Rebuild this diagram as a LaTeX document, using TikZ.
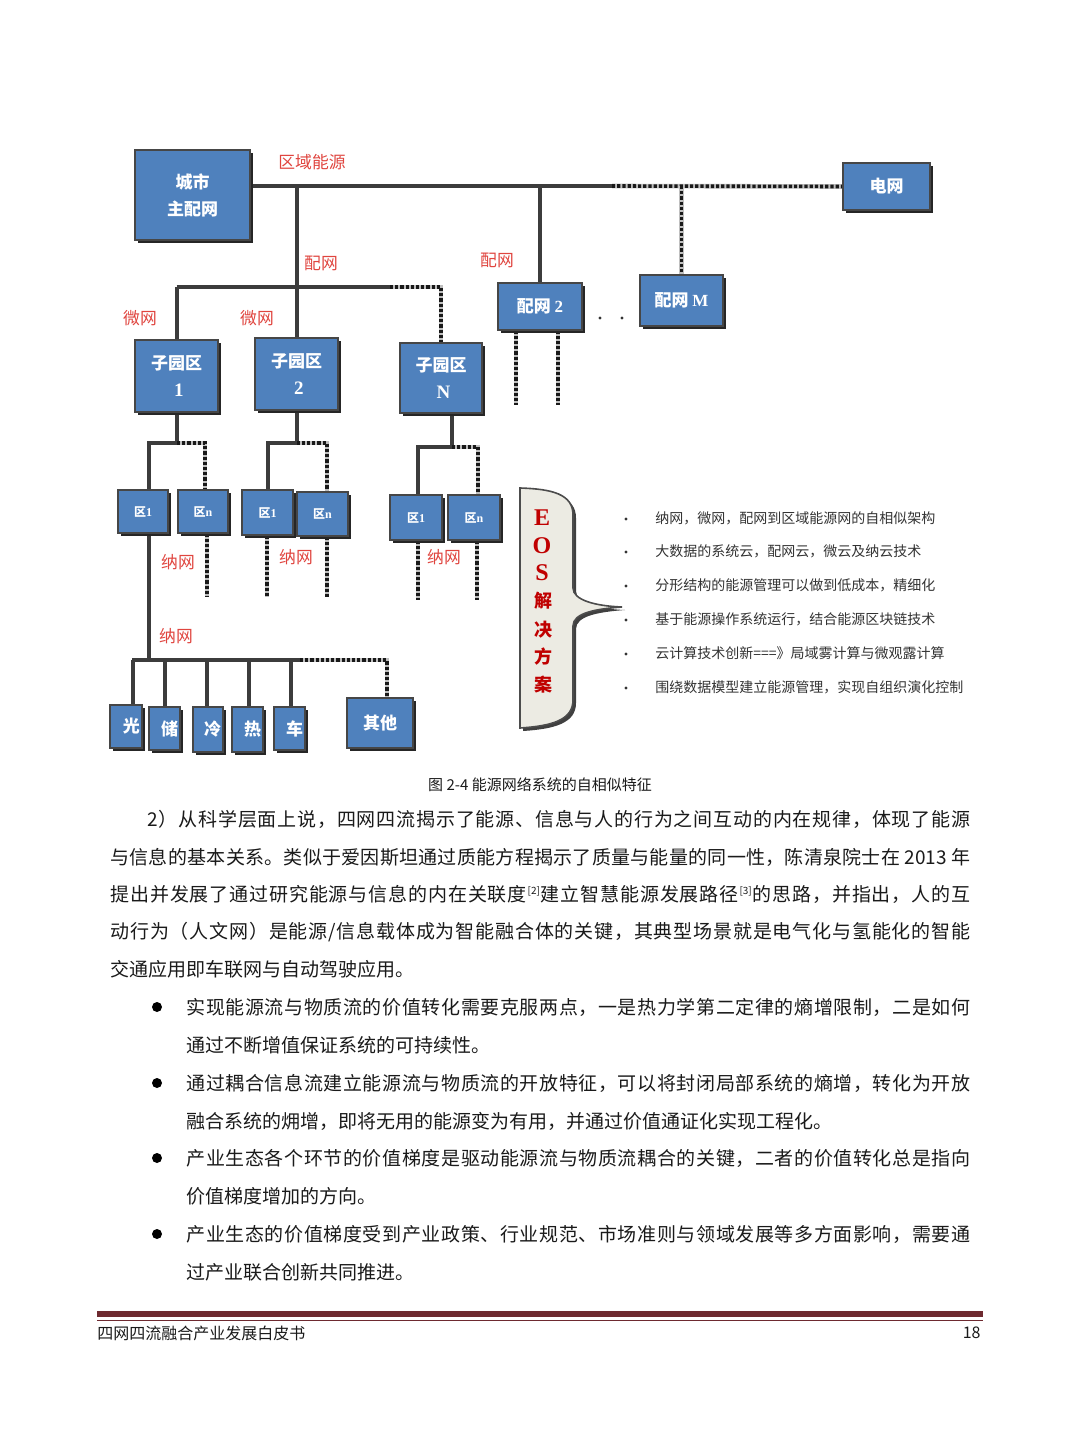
\documentclass[tikz,border=0pt]{standalone}
\usepackage{fontspec}
\setmainfont{Noto Sans CJK SC}
\newfontfamily\ser{Liberation Serif}
\usetikzlibrary{shadows,backgrounds}
\pgfdeclarelayer{bg}
\pgfsetlayers{bg,background,main}
\definecolor{boxblue}{HTML}{4F81BD}
\definecolor{labred}{HTML}{E0453F}
\definecolor{eosred}{HTML}{C00000}
\definecolor{linegray}{HTML}{3C3C3C}
\definecolor{maroonline}{HTML}{6E2A30}
\definecolor{listtext}{HTML}{333333}
\definecolor{bodytext}{HTML}{1A1A1A}
\definecolor{eosfill}{HTML}{ECEBE3}
\newcommand\fs[2]{\fontsize{#1}{#2}\selectfont}
\newcommand\bx[7][]{\node[box,minimum width={(#5-#3)*0.5pt},minimum height={(#6-#4)*0.5pt},#1] (#2) at ({(#3+#5)/2},{(#4+#6)/2}) {#7};}
\def\spr#1{\ifx\relax#1\else#1\hskip0pt plus 1fil\relax\expandafter\spr\fi}
\newcommand\J[2]{\hbox to #1{\spr #2\relax\unskip}}
\newcommand\sref[1]{{\fs{5}{5}\raisebox{3.5pt}{[#1]}}}
\def\srA{\sref{2}}
\def\srB{\sref{3}}
\begin{document}
\begin{tikzpicture}[x=0.5pt,y=-0.5pt,
  box/.style={draw=gray!55!black,line width=0.6pt,fill=boxblue,text=white,
    font=\bfseries\fs{8.5}{13.5},align=center,inner sep=0pt,
    drop shadow={shadow xshift=1.5pt,shadow yshift=-1.5pt,fill=black!85,opacity=1}},
  smallbox/.style={font=\bfseries\fs{6}{6}},
  leaf/.style={align=right,inner xsep=1pt,font=\bfseries\fs{8.5}{10}},
  slink/.style={draw=linegray,line width=2pt,line join=miter},
  dlink/.style={draw=black!90,line width=1.8pt,dash pattern=on 1.6pt off 1pt,line join=miter,
    preaction={draw=gray!50,line width=2.3pt,solid}},
  lab/.style={text=labred,font=\fs{8.4}{10},inner sep=0pt},
  eos/.style={text=eosred,inner sep=0pt},
  item/.style={anchor=west,text=listtext,font=\fs{7}{8},inner sep=0pt},
  tl/.style={anchor=west,inner sep=0pt,text=bodytext,font=\fs{9.5}{12}}
]
\useasboundingbox (0,0) rectangle (1080,1455);
\begin{pgfonlayer}{bg}
\fill[white] (0,0) rectangle (1080,1455);
\end{pgfonlayer}

% ---------- boxes ----------
\bx{city}{135}{150}{250}{240}{城市\\主配网}
\bx{grid}{843}{163}{930}{210}{电网}
\bx{pw2}{498}{283}{582}{330}{配网 {\ser 2}}
\bx{pwM}{640}{275}{723}{326}{配网 {\ser M}}
\bx{z1}{135}{340}{218}{412}{子园区\\{\ser\fs{9.5}{13.5} 1}}
\bx{z2}{255}{338}{338}{410}{子园区\\{\ser\fs{9.5}{13.5} 2}}
\bx{zN}{400}{343}{482}{413}{子园区\\{\ser\fs{9.5}{13.5} N}}
\bx[smallbox]{a1}{118}{490}{168}{533}{区{\ser 1}}
\bx[smallbox]{b1}{178}{490}{228}{533}{区{\ser n}}
\bx[smallbox]{a2}{242}{490}{293}{535}{区{\ser 1}}
\bx[smallbox]{b2}{297}{492}{348}{536}{区{\ser n}}
\bx[smallbox]{a3}{390}{495}{442}{540}{区{\ser 1}}
\bx[smallbox]{b3}{448}{495}{500}{540}{区{\ser n}}
\bx[leaf,text width=14pt]{L1}{110}{705}{142}{748}{光}
\bx[leaf,text width=13.5pt]{L2}{149}{707}{180}{750}{储}
\bx[leaf,text width=13pt]{L3}{193}{707}{223}{752}{冷}
\bx[leaf,text width=13.5pt]{L4}{232}{707}{263}{752}{热}
\bx[leaf,text width=13.5pt]{L5}{274}{707}{305}{750}{车}
\bx{other}{347}{698}{413}{748}{其他}

% ---------- labels ----------
\node[lab] (l1) at (312,162) {区域能源};
\node[lab] (l2) at (321,263) {配网};
\node[lab] (l3) at (497,260) {配网};
\node[lab] (l4) at (140,318) {微网};
\node[lab] (l5) at (257,318) {微网};
\node[lab] (l6) at (178,562) {纳网};
\node[lab] (l7) at (296,557) {纳网};
\node[lab] (l8) at (444,557) {纳网};
\node[lab] (l9) at (176,636) {纳网};

% ---------- junction coordinates ----------
\coordinate (j1) at (296.5,186);
\coordinate (j2) at (540,186);
\coordinate (j3) at (612,186);
\coordinate (j4) at (681.5,186);
\coordinate (k1) at (176.5,287);
\coordinate (k2) at (296.5,287);
\coordinate (k3) at (390,287);
\coordinate (k4) at (441,287);
\coordinate (m1) at (177,443);
\coordinate (m1l) at (149,443);
\coordinate (m1r) at (205,443);
\coordinate (m2) at (296.5,443);
\coordinate (m2l) at (268,443);
\coordinate (m2r) at (327,443);
\coordinate (m3) at (452,447);
\coordinate (m3l) at (418,447);
\coordinate (m3r) at (478,447);
\coordinate (e1) at (207,597);
\coordinate (e2) at (267,597);
\coordinate (e3) at (327,597);
\coordinate (e4) at (418,600);
\coordinate (e5) at (477,600);
\coordinate (p1) at (516,405);
\coordinate (p2) at (558,405);
\coordinate (n0) at (149,660);
\coordinate (nL) at (132,660);
\coordinate (nR) at (300,660);
\coordinate (nD) at (387,660);

% ---------- connectors ----------
\begin{pgfonlayer}{background}
\draw[slink] (city.east |- j1) -- (j3);
\draw[dlink] (j3) -- (grid.west);
\draw[slink] (j1) -- (k2);
\draw[slink] (j2) -- (pw2.north);
\draw[dlink] (j4) -- (pwM.north);
\draw[dlink] (pw2.south -| p1) -- (p1);
\draw[dlink] (pw2.south -| p2) -- (p2);
\draw[slink] (k1) -- (k3);
\draw[dlink] (k3) -- (k4) -- (zN.north);
\draw[slink] (k1) -- (z1.north);
\draw[slink] (k2) -- (z2.north);
% group 1
\draw[slink] (z1.south -| m1) -- (m1) -- (m1l) -- (a1.north -| m1l);
\draw[dlink] (m1) -- (m1r) -- (b1.north -| m1r);
\draw[dlink] (b1.south -| e1) -- (e1);
% group 2
\draw[slink] (z2.south) -- (m2) -- (m2l) -- (a2.north -| m2l);
\draw[dlink] (m2) -- (m2r) -- (b2.north -| m2r);
\draw[dlink] (a2.south -| e2) -- (e2);
\draw[dlink] (b2.south -| e3) -- (e3);
% group N
\draw[slink] (zN.south -| m3) -- (m3) -- (m3l) -- (a3.north -| m3l);
\draw[dlink] (m3) -- (m3r) -- (b3.north -| m3r);
\draw[dlink] (a3.south -| e4) -- (e4);
\draw[dlink] (b3.south -| e5) -- (e5);
% nano bus
\draw[slink] (a1.south -| n0) -- (n0);
\draw[slink] (nL) -- (nR);
\draw[dlink] (nR) -- (nD) -- (other.north -| nD);
\draw[slink] (133,660) -- (L1.north -| 133,0);
\draw[slink] (165,660) -- (L2.north -| 165,0);
\draw[slink] (207,660) -- (L3.north -| 207,0);
\draw[slink] (249,660) -- (L4.north -| 249,0);
\draw[slink] (291,660) -- (L5.north -| 291,0);
\end{pgfonlayer}

% dots between 配网2 and 配网M
\fill[black!80] (600,318) circle (1.6);
\fill[black!80] (622,318) circle (1.6);

% ---------- EOS brace ----------
\fill[black!75,xshift=1.5pt,yshift=-1.5pt] (520,488) .. controls (552,489) and (573,494) .. (573,515) -- (573,588) .. controls (573,600) and (595,606) .. (622,607) .. controls (595,609) and (573,613) .. (573,626) -- (573,700) .. controls (573,720) and (552,726) .. (520,728) -- cycle;
\filldraw[fill=eosfill,draw=gray!60!black,line width=0.8pt] (520,488) .. controls (552,489) and (573,494) .. (573,515) -- (573,588) .. controls (573,600) and (595,606) .. (622,607) .. controls (595,609) and (573,613) .. (573,626) -- (573,700) .. controls (573,720) and (552,726) .. (520,728) -- cycle;
\node[eos,font=\ser\bfseries\fs{12}{12}] (eE) at (542,518) {E};
\node[eos,font=\ser\bfseries\fs{12}{12}] (eO) at (542,546) {O};
\node[eos,font=\ser\bfseries\fs{12}{12}] (eS) at (542,573) {S};
\node[eos,font=\bfseries\fs{9}{10}] (e4n) at (543,601) {解};
\node[eos,font=\bfseries\fs{9}{10}] (e5n) at (543,630) {决};
\node[eos,font=\bfseries\fs{9}{10}] (e6n) at (543,657) {方};
\node[eos,font=\bfseries\fs{9}{10}] (e7n) at (543,685) {案};

% ---------- list ----------
\foreach \yy in {519,552,586,620,654,688} {\fill[listtext] (626,\yy) circle (1.7);}
\node[item] (t1) at (655,518) {纳网，微网，配网到区域能源网的自相似架构};
\node[item] (t2) at (655,551) {大数据的系统云，配网云，微云及纳云技术};
\node[item] (t3) at (655,585) {分形结构的能源管理可以做到低成本，精细化};
\node[item] (t4) at (655,619) {基于能源操作系统运行，结合能源区块链技术};
\node[item] (t5) at (655,653) {云计算技术创新===》局域雾计算与微观露计算};
\node[item] (t6) at (655,687) {围绕数据模型建立能源管理，实现自组织演化控制};

% ---------- caption ----------
\node[text=bodytext,font=\fs{7.5}{8},inner sep=0pt] (cap) at (540,785) {图 2-4 能源网络系统的自相似特征};

% ---------- body text ----------
\node[tl] (b1l) at (147,819) {\J{411.5pt}{2）从科学层面上说，四网四流揭示了能源、信息与人的行为之间互动的内在规律，体现了能源}};
\node[tl] (b2l) at (110,857) {\J{430pt}{与信息的基本关系。类似于爱因斯坦通过质能方程揭示了质量与能量的同一性，陈清泉院士在{ 2013 }年}};
\node[tl] (b3l) at (110,894) {\J{430pt}{提出并发展了通过研究能源与信息的内在关联度\srA 建立智慧能源发展路径\srB 的思路，并指出，人的互}};
\node[tl] (b4l) at (110,932) {\J{430pt}{动行为（人文网）是能源/信息载体成为智能融合体的关键，其典型场景就是电气化与氢能化的智能}};
\node[tl] (b5l) at (110,969) {交通应用即车联网与自动驾驶应用。};

% ---------- bullets ----------
\foreach \yy in {1007,1083,1158,1234} {\fill[black] (157,\yy) circle (5);}
\node[tl] (u1a) at (186,1007) {\J{392pt}{实现能源流与物质流的价值转化需要克服两点，一是热力学第二定律的熵增限制，二是如何}};
\node[tl] (u1b) at (186,1045) {通过不断增值保证系统的可持续性。};
\node[tl] (u2a) at (186,1083) {\J{392pt}{通过耦合信息流建立能源流与物质流的开放特征，可以将封闭局部系统的熵增，转化为开放}};
\node[tl] (u2b) at (186,1121) {融合系统的㶲增，即将无用的能源变为有用，并通过价值通证化实现工程化。};
\node[tl] (u3a) at (186,1158) {\J{392pt}{产业生态各个环节的价值梯度是驱动能源流与物质流耦合的关键，二者的价值转化总是指向}};
\node[tl] (u3b) at (186,1196) {价值梯度增加的方向。};
\node[tl] (u4a) at (186,1234) {\J{392pt}{产业生态的价值梯度受到产业政策、行业规范、市场准则与领域发展等多方面影响，需要通}};
\node[tl] (u4b) at (186,1272) {过产业联合创新共同推进。};

% ---------- footer ----------
\fill[maroonline] (97,1311) rectangle (983,1317);
\draw[maroonline,line width=0.5pt] (97,1320) -- (983,1320);
\node[anchor=west,inner sep=0pt,text=bodytext,font=\fs{8}{9}] (ft) at (97,1333) {四网四流融合产业发展白皮书};
\node[anchor=east,inner sep=0pt,text=bodytext,font=\fs{8}{9}] (pg) at (981,1333) {18};
\end{tikzpicture}
\end{document}
